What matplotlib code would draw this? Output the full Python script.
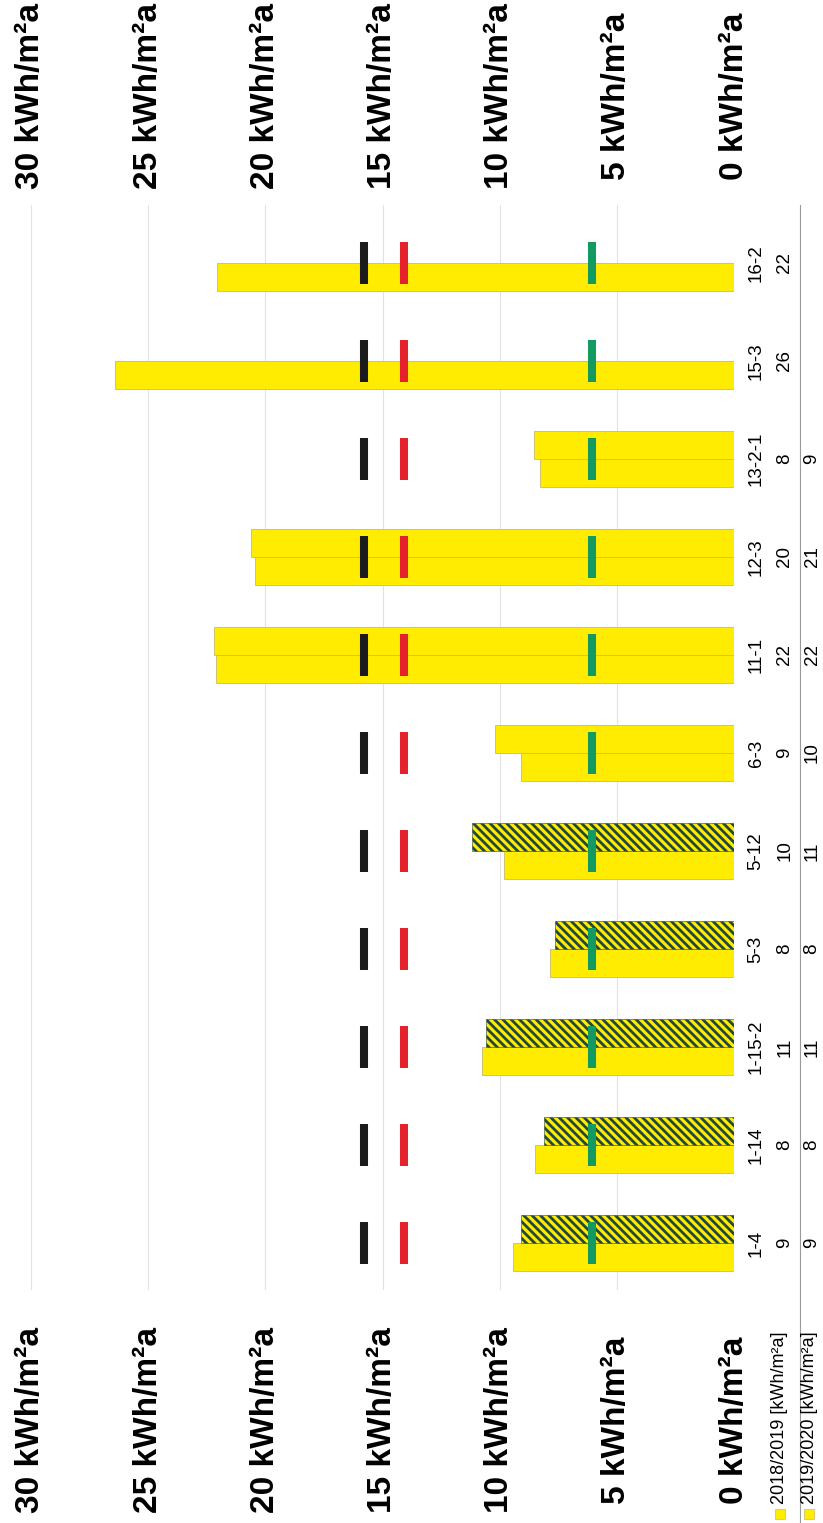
import matplotlib
matplotlib.use("Agg")
import matplotlib.pyplot as plt
import matplotlib.transforms as mtransforms
from matplotlib.patches import Rectangle
import numpy as np

W, H = 823, 1523

# Daten (Wert je Objekt, kWh/m²a)
categories = ["1-4", "1-14", "1-15-2", "5-3", "5-12", "6-3", "11-1", "12-3", "13-2-1", "15-3", "16-2"]
v_1819 = [9.45, 8.5, 10.75, 7.85, 9.8, 9.1, 22.1, 20.45, 8.3, 26.4, 22.05]
v_1920 = [9.1, 8.1, 10.6, 7.65, 11.2, 10.2, 22.2, 20.6, 8.55, np.nan, np.nan]
hatched_1920 = [True, True, True, True, True, False, False, False, False, False, False]
lab_1819 = ["9", "8", "11", "8", "10", "9", "22", "20", "8", "26", "22"]
lab_1920 = ["9", "8", "11", "8", "11", "10", "22", "21", "9", "", ""]
ref_black = 15.8
ref_red = 14.1
ref_green = 6.05
ticks = [0, 5, 10, 15, 20, 25, 30]

YELLOW = "#ffec00"
HATCH_DARK = "#22473f"
FONT = ["Liberation Sans", "DejaVu Sans"]


def fx(px):
    return px / W


def fy(py):
    return 1 - py / H


plt.rcParams["hatch.linewidth"] = 2.0

fig = plt.figure(figsize=(W / 100, H / 100), dpi=100)
ax = fig.add_axes([fx(31), fy(1290), (734 - 31) / W, (1290 - 205) / H])
ax.set_xlim(30, 0)
ax.set_ylim(-0.48, 10.59)

y = np.arange(len(categories))
bh = 0.286

ax.barh(y - bh / 2, v_1819, height=bh, color=YELLOW, edgecolor="#c9bb6a", linewidth=0.6, zorder=2)
bars = ax.barh(y + bh / 2, v_1920, height=bh, color=YELLOW, edgecolor="#c9bb6a", linewidth=0.6, zorder=2)
for b, h in zip(bars, hatched_1920):
    if h:
        b.set_hatch("\\" * 4)
        b.set_edgecolor(HATCH_DARK)
        b.set_linewidth(0.4)

mh = 0.215
ax.vlines([ref_black] * len(y), y - mh, y + mh, colors="#1b1b1b", linewidth=5.8, zorder=3)
ax.vlines([ref_red] * len(y), y - mh, y + mh, colors="#e3222b", linewidth=5.8, zorder=3)
ax.vlines([ref_green] * len(y), y - mh, y + mh, colors="#129a60", linewidth=5.8, zorder=3)

ax.set_xticks(ticks)
ax.set_yticks([])
ax.tick_params(axis="x", length=0, labelbottom=False)
ax.grid(axis="x", color="#e2e2e2", linewidth=0.8, zorder=0)
for s in ax.spines.values():
    s.set_visible(False)

# Achsbeschriftungen oben und unten (gedreht)
tr_x = mtransforms.blended_transform_factory(ax.transData, fig.transFigure)
for t in ticks:
    for ypos in (96, 1420):
        ax.text(t, fy(ypos), f"{t} kWh/m²a", transform=tr_x, rotation=90,
                ha="center", va="center", fontsize=24, fontweight="bold",
                family=FONT, clip_on=False)

# Objektbezeichnungen und Werte
tr_y = mtransforms.blended_transform_factory(fig.transFigure, ax.transData)
for i, c in enumerate(categories):
    ax.text(fx(756), i, c, transform=tr_y, rotation=90, ha="center", va="center",
            fontsize=13.5, family=FONT, clip_on=False)
    ax.text(fx(785), i, lab_1819[i], transform=tr_y, rotation=90, ha="center", va="center",
            fontsize=13.5, family=FONT, clip_on=False)
    ax.text(fx(812), i, lab_1920[i], transform=tr_y, rotation=90, ha="center", va="center",
            fontsize=13.5, family=FONT, clip_on=False)

fig.add_artist(plt.Line2D([fx(800), fx(800)], [fy(205), 0], color="#9a9a9a", linewidth=0.8))

# Legende
for xc, txt in ((780, "2018/2019 [kWh/m²a]"), (809, "2019/2020 [kWh/m²a]")):
    fig.add_artist(Rectangle((fx(xc - 5), fy(1519)), 10 / W, 10 / H, transform=fig.transFigure,
                             facecolor=YELLOW, edgecolor="#c9bb6a", linewidth=0.5))
    fig.text(fx(xc), fy(1504), txt, rotation=90, ha="center", va="bottom",
             fontsize=13, family=FONT)

fig.savefig("out.png", dpi=100)
